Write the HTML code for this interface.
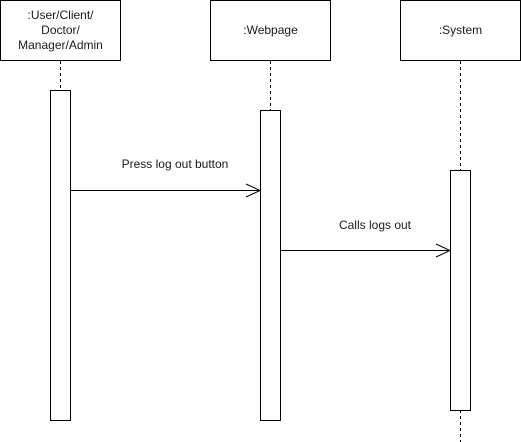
<!DOCTYPE html>
<html><head><meta charset="utf-8"><style>body{margin:0;background:#fff}svg{display:block}</style></head><body>
<svg width="521" height="442" xmlns="http://www.w3.org/2000/svg" font-family="Liberation Sans, sans-serif" font-size="12" fill="#1a1a1a">
<g stroke="#000" fill="#fff">
<rect x="0.5" y="0.5" width="120" height="60"/>
<rect x="210.5" y="0.5" width="120" height="60"/>
<rect x="400.5" y="0.5" width="120" height="60"/>
</g>
<g stroke="#000" stroke-dasharray="3,3">
<line x1="60.5" y1="61" x2="60.5" y2="90"/>
<line x1="270.5" y1="61" x2="270.5" y2="110"/>
<line x1="460.5" y1="61" x2="460.5" y2="170"/>
<line x1="460.5" y1="410" x2="460.5" y2="442"/>
</g>
<g stroke="#000" fill="#fff">
<rect x="50.5" y="90.5" width="20" height="330"/>
<rect x="260.5" y="110.5" width="20" height="310"/>
<rect x="450.5" y="170.5" width="20" height="240"/>
</g>
<g stroke="#000" fill="none">
<line x1="70.5" y1="190.5" x2="260" y2="190.5"/>
<polyline points="246,184 260,190.5 246,197"/>
<line x1="280.5" y1="250.5" x2="450" y2="250.5"/>
<polyline points="436,244 450,250.5 436,257"/>
</g>
<g text-anchor="middle">
<text x="60.5" y="19">:User/Client/</text>
<text x="60.5" y="34">Doctor/</text>
<text x="60.5" y="49">Manager/Admin</text>
<text x="270.5" y="34">:Webpage</text>
<text x="460.5" y="34">:System</text>
<text x="175" y="168">Press log out button</text>
<text x="375" y="229">Calls logs out</text>
</g>
</svg>
</body></html>
